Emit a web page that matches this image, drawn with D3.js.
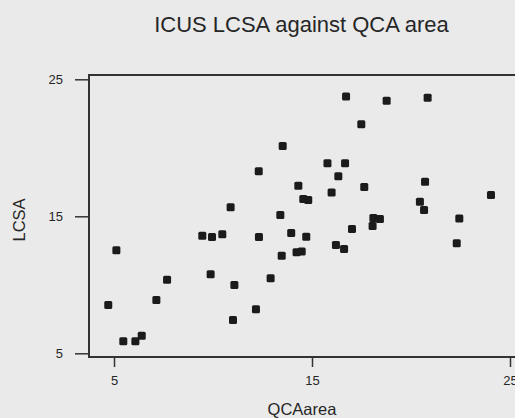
<!DOCTYPE html>
<html>
<head>
<meta charset="utf-8">
<script src="https://cdn.jsdelivr.net/npm/d3@7"></script>
<style>
  body { margin: 0; background: #eaeaea; }
  svg { display: block; }
  text { font-family: "Liberation Sans", Arial, Helvetica, sans-serif; fill: #262626; }
</style>
</head>
<body>
<div id="chart"></div>
<script>
// QCA area (x) and ICUS LCSA (y)
const qcaArea = [5.12, 4.71, 5.47, 6.08, 6.40, 7.14, 7.68, 9.46, 9.95, 10.47,
  9.88, 11.08, 11.01, 12.17, 12.32, 12.91, 13.47, 13.40, 13.95, 14.22,
  14.48, 14.71, 13.52, 12.31, 14.31, 10.89, 16.72, 18.77, 20.84, 17.49,
  15.78, 16.67, 16.33, 17.64, 15.99, 20.71, 24.04, 14.56, 14.81, 20.45,
  20.66, 18.10, 18.43, 18.06, 22.44, 17.02, 16.21, 16.62, 22.31]
const lcsa = [12.52, 8.53, 5.88, 5.88, 6.28, 8.89, 10.37, 13.58, 13.49, 13.69,
  10.77, 9.99, 7.43, 8.21, 13.49, 10.47, 12.12, 15.09, 13.78, 12.37,
  12.43, 13.51, 20.13, 18.29, 17.23, 15.66, 23.74, 23.44, 23.66, 21.72,
  18.88, 18.88, 17.92, 17.14, 16.74, 17.53, 16.55, 16.26, 16.19, 16.07,
  15.46, 14.88, 14.80, 14.29, 14.84, 14.07, 12.91, 12.61, 13.03]
const xTicks = [5, 15, 25]
const yTicks = [5, 15, 25]

const width = 515, height = 418

const svg = d3.select("#chart").append("svg")
    .attr("width", width)
    .attr("height", height)

// scales
const x = d3.scaleLinear().domain([5, 25]).range([114, 510])
const y = d3.scaleLinear().domain([5, 25]).range([353.3, 79.3])

// plot frame edges
const frame = { left: 89, right: 530, top: 75, bottom: 357 }

// title
svg.append("text")
    .attr("x", 301.5)
    .attr("y", 32)
    .attr("text-anchor", "middle")
    .style("font-size", "22px")
    .text("ICUS LCSA against QCA area")

// frame
svg.append("rect")
    .attr("x", frame.left)
    .attr("y", frame.top)
    .attr("width", frame.right - frame.left)
    .attr("height", frame.bottom - frame.top)
    .attr("fill", "none")
    .attr("stroke", "#333")
    .attr("stroke-width", 2)

// x axis
const xAxis = svg.append("g")
    .attr("transform", "translate(0," + frame.bottom + ")")
    .call(d3.axisBottom(x).tickValues(xTicks).tickSize(10).tickPadding(9))
xAxis.select(".domain").remove()
xAxis.selectAll("line").attr("stroke", "#333").attr("stroke-width", 1.5)
xAxis.selectAll("text").style("font-size", "13px").attr("fill", "#262626").attr("font-family", null)

// y axis
const yAxis = svg.append("g")
    .attr("transform", "translate(" + frame.left + ",0)")
    .call(d3.axisLeft(y).tickValues(yTicks).tickSize(14).tickPadding(12))
yAxis.select(".domain").remove()
yAxis.selectAll("line").attr("stroke", "#333").attr("stroke-width", 1.5)
yAxis.selectAll("text").style("font-size", "13px").attr("fill", "#262626").attr("font-family", null)

// axis titles
svg.append("text")
    .attr("x", 302)
    .attr("y", 415)
    .attr("text-anchor", "middle")
    .style("font-size", "16.5px")
    .text("QCAarea")

svg.append("text")
    .attr("transform", "translate(25,220) rotate(-90)")
    .attr("text-anchor", "middle")
    .style("font-size", "16.5px")
    .text("LCSA")

// points
const data = qcaArea.map((d, i) => ({ x: d, y: lcsa[i] }))
const s = 8
svg.append("g")
    .selectAll("rect")
    .data(data)
    .enter()
    .append("rect")
    .attr("x", d => x(d.x) - s / 2)
    .attr("y", d => y(d.y) - s / 2)
    .attr("width", s)
    .attr("height", s)
    .attr("rx", 1.5)
    .attr("fill", "#1b1b1b")
</script>
</body>
</html>
